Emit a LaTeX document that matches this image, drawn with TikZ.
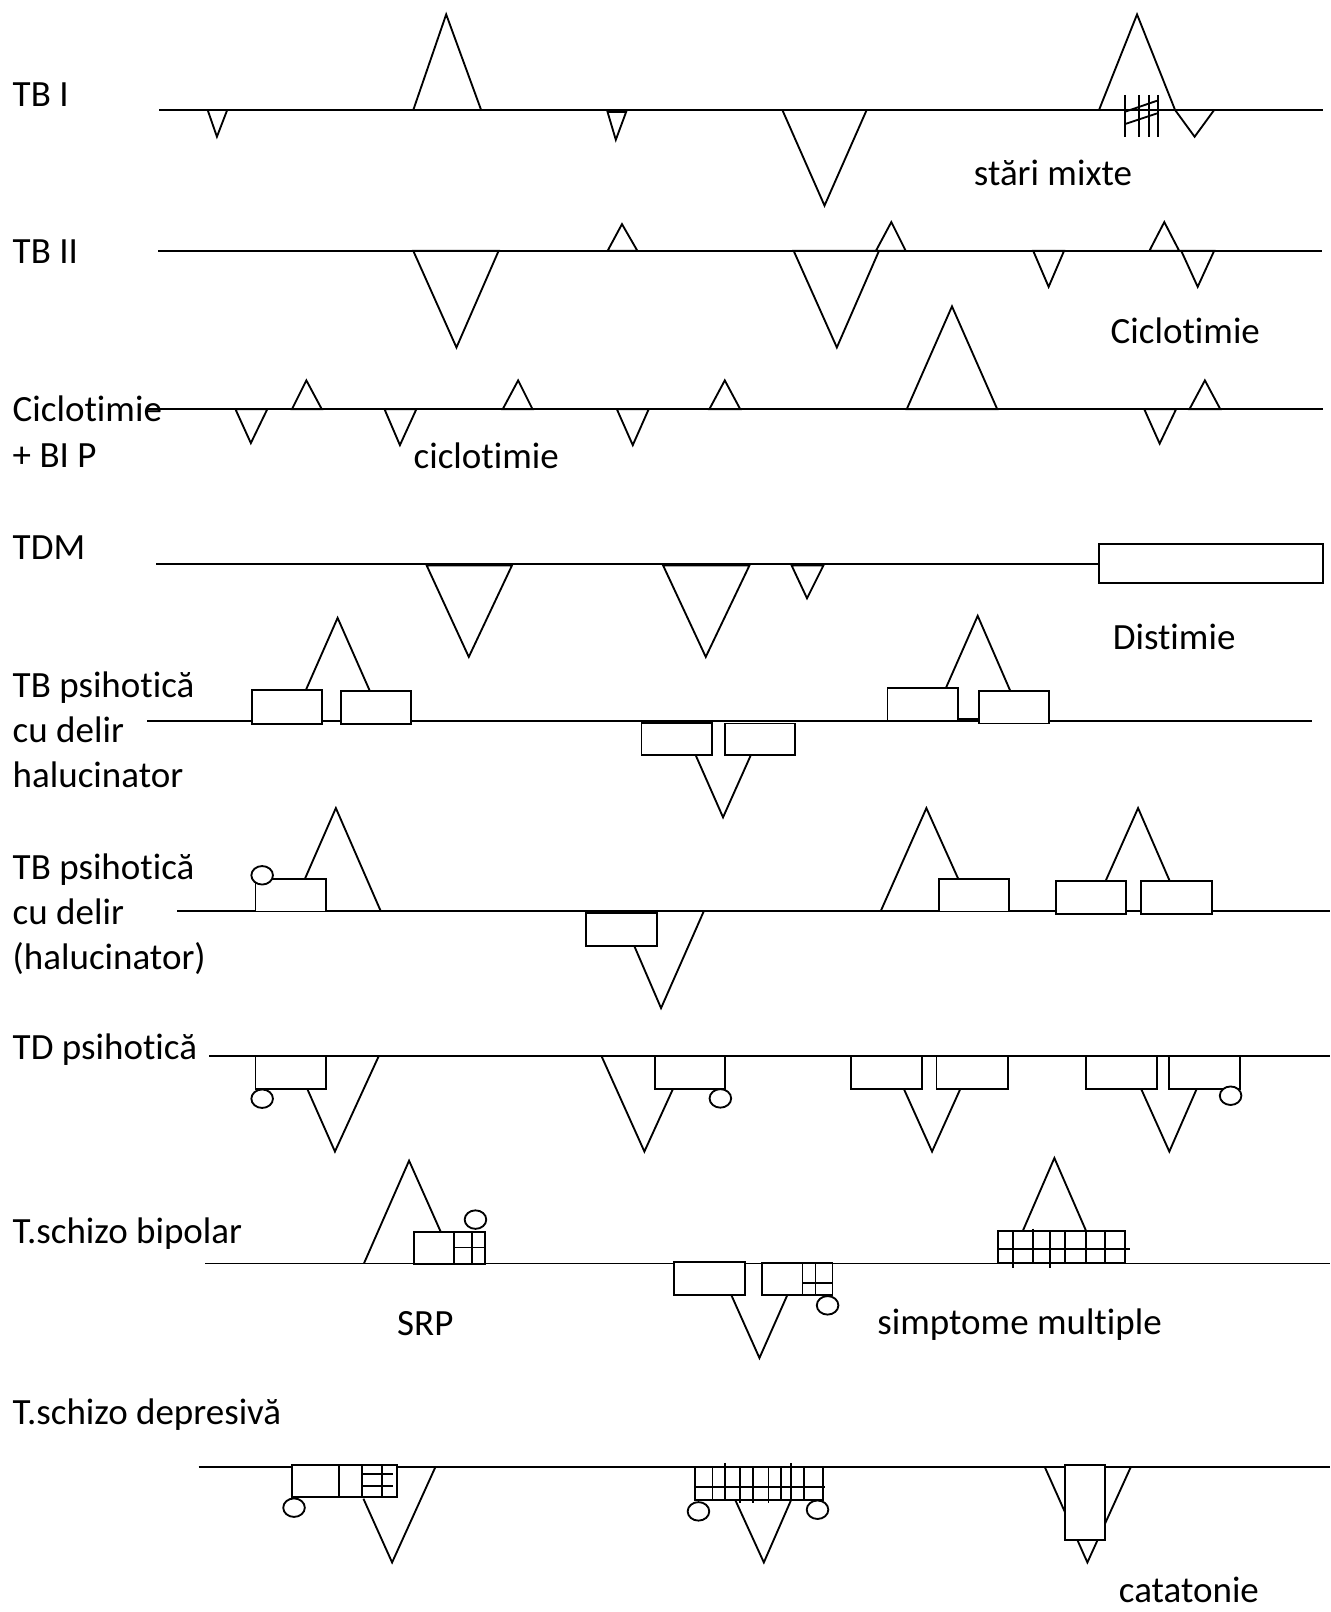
\documentclass[tikz,border=0pt]{standalone}
\usepackage{fontspec}
\setmainfont{Carlito}[Ligatures={NoCommon}]
\begin{document}
\begin{tikzpicture}[x=0.5pt,y=-0.5pt,
  ln/.style={line width=0.9pt},
  shp/.style={draw, fill=white, line width=0.9pt, line join=miter},
  legs/.style={draw, line width=0.9pt, line join=miter},
  dot/.style={draw, fill=white, line width=0.9pt},
  lbl/.style={anchor=base west, inner sep=0pt, font=\fontsize{18}{21}\selectfont}]
\useasboundingbox (0,0) rectangle (1294,1568);
\fill[white] (0,0) rectangle (1294,1568);
\newcommand{\dotat}[1]{\draw[dot] #1 ellipse [x radius=5.25pt, y radius=4.5pt];}

% ---------- TB I ----------
\node[lbl] (tbI) at (12,104) {TB I};
\draw[ln] (155,107) -- (1287,107);
\draw[shp] (202,107) -- (211,133) -- (221,107) -- cycle;
\draw[shp] (402,107) -- (434,14) -- (468,107) -- cycle;
\draw[shp] (591,109) -- (599,136) -- (609,109) -- cycle;
\draw[shp] (761,107) -- (802,200) -- (843,107) -- cycle;
\draw[shp] (1069,107) -- (1106,14) -- (1143,107) -- cycle;
\draw[shp] (1143,107) -- (1162,133) -- (1181,107) -- cycle;
% mixed-state hatching
\foreach \hx in {1094.6,1107.5,1117.3,1126} \draw[ln] (\hx,92.4) -- (\hx,133);
\draw[ln] (1094.6,108.6) -- (1125.4,98);
\draw[ln] (1094.6,120.6) -- (1125.4,110.3);
\node[lbl] (mixte) at (947,180) {stări mixte};

% ---------- TB II ----------
\node[lbl] (tbII) at (12,256) {TB II};
\draw[ln] (154,244) -- (1286,244);
\draw[shp] (402,244) -- (444,338) -- (485,244) -- cycle;
\draw[shp] (591,244) -- (605,218) -- (620,244) -- cycle;
\draw[shp] (772,244) -- (814,338) -- (855,244) -- cycle;
\draw[shp] (852,244) -- (867,216) -- (881,244) -- cycle;
\draw[shp] (1005,244) -- (1020,279) -- (1035,244) -- cycle;
\draw[shp] (1118,244) -- (1132.5,216) -- (1147,244) -- cycle;
\draw[shp] (1149,244) -- (1165,279) -- (1181,244) -- cycle;
\node[lbl] (ciclR) at (1080,334) {Ciclotimie};

% ---------- Ciclotimie + BI P ----------
\draw[ln] (143,398) -- (1287,398);
\node[lbl] (cicl) at (12,410) {Ciclotimie};
\node[lbl] (bip) at (12,455) {+ BI P};
\draw[shp] (229,398) -- (244,431) -- (260,398) -- cycle;
\draw[shp] (284,398) -- (298,370) -- (313,398) -- cycle;
\draw[shp] (374,398) -- (389,433) -- (405,398) -- cycle;
\draw[shp] (489,398) -- (504,370) -- (518,398) -- cycle;
\draw[shp] (600,398) -- (615.5,433) -- (631,398) -- cycle;
\draw[shp] (690,398) -- (705,370) -- (720,398) -- cycle;
\draw[shp] (882,398) -- (926,298) -- (970,398) -- cycle;
\draw[shp] (1113,398) -- (1128,431.5) -- (1144,398) -- cycle;
\draw[shp] (1157,398) -- (1172,370) -- (1187,398) -- cycle;
\node[lbl] (ciclL) at (402,456) {ciclotimie};

% ---------- TDM ----------
\node[lbl] (tdm) at (12,544) {TDM};
\draw[ln] (152,549) -- (1069,549);
\draw[shp] (415,550) -- (456,639) -- (498,550) -- cycle;
\draw[shp] (645,550) -- (686.5,639) -- (729,550) -- cycle;
\draw[shp] (770,550) -- (785,582) -- (801,550) -- cycle;
\draw[shp] (1069,529) rectangle (1287,567);
\node[lbl] (dist) at (1082,632) {Distimie};

% ---------- TB psihotica cu delir halucinator ----------
\node[lbl] (p1a) at (12,678) {TB psihotică};
\node[lbl] (p1b) at (12,722) {cu delir};
\node[lbl] (p1c) at (12,766) {halucinator};
\draw[ln] (143,701) -- (1276,701);
\draw[legs] (297.6,671) -- (328.4,601) -- (359.7,672);
\draw[shp] (245,671) rectangle (313,704);
\draw[shp] (332,672) rectangle (400,704);
\draw[shp] (624,703) rectangle (692.7,734.6);
\draw[shp] (705.4,703.7) rectangle (773.7,734.6);
\draw[legs] (676.7,734.6) -- (703.3,795) -- (730.3,734.6);
\draw[legs] (920,669.4) -- (951,599) -- (982.6,671.8);
\draw[shp] (863.2,669.4) rectangle (932,701);
\draw[ln] (932,699) -- (952,699);
\draw[shp] (952.2,671.8) rectangle (1020.5,703.7);

% ---------- TB psihotica cu delir (halucinator) ----------
\node[lbl] (p2a) at (12,855) {TB psihotică};
\node[lbl] (p2b) at (12,899) {cu delir};
\node[lbl] (p2c) at (12,943) {(halucinator)};
\draw[ln] (172.5,886) -- (1294,886);
\draw[legs] (296.7,854.6) -- (326.7,786) -- (370.5,886.6);
\draw[shp] (248.5,854.6) rectangle (317,886.6);
\dotat{(255,851.4)}
\draw[shp] (570.4,888) rectangle (639,920);
\draw[legs] (616.9,920) -- (643,980.6) -- (684.3,887);
\draw[legs] (856.8,886) -- (901.1,786) -- (932,854.7);
\draw[shp] (913,854.7) rectangle (981.7,886.6);
\draw[legs] (1075.4,857) -- (1107,786) -- (1137.8,857);
\draw[shp] (1026.9,857) rectangle (1095.6,889);
\draw[shp] (1110,857) rectangle (1178.8,889);

% ---------- TD psihotica ----------
\node[lbl] (tdp) at (12,1031) {TD psihotică};
\draw[ln] (203.3,1027) -- (1294,1027);
\draw[legs] (298.9,1059.2) -- (325.8,1120.1) -- (368.4,1027.3);
\draw[shp] (248.5,1027.3) rectangle (317,1059.2);
\dotat{(255,1068.7)}
\draw[legs] (585.1,1027.3) -- (626.8,1120.1) -- (654.6,1059.2);
\draw[shp] (637.3,1027.3) rectangle (705,1059.2);
\dotat{(700.7,1068.4)}
\draw[shp] (827.7,1027.3) rectangle (897,1059.2);
\draw[shp] (910.9,1027.3) rectangle (980.5,1059.2);
\draw[legs] (879.2,1059.2) -- (906.6,1120.1) -- (934.1,1059.2);
\draw[shp] (1056.4,1027.3) rectangle (1125.2,1059.2);
\draw[shp] (1137.4,1027.3) rectangle (1206.2,1059.2);
\draw[legs] (1110,1059.2) -- (1137.4,1120.1) -- (1164,1059.2);
\dotat{(1197,1065.8)}

% ---------- T.schizo bipolar ----------
\node[lbl] (sb) at (12,1210) {T.schizo bipolar};
\draw[ln] (199.8,1229) -- (1294,1229);
\draw[legs] (354,1229) -- (397.9,1129) -- (428.8,1198.4);
\draw[shp] (402.8,1198.4) rectangle (471.9,1229.5);
\draw[ln] (442,1198.4) -- (442,1229.5);
\draw[ln] (459,1198.4) -- (459,1229.5);
\draw[ln] (442,1213.5) -- (471.9,1213.5);
\dotat{(462.5,1186.3)}
\draw[shp] (655.8,1227.3) rectangle (724.4,1259.6);
\draw[shp] (741,1228.5) rectangle (809.8,1259.3);
\draw[ln] (780.6,1228.5) -- (780.6,1259.3);
\draw[ln] (793.3,1228.5) -- (793.3,1259.3);
\draw[ln] (780.6,1248) -- (809.8,1248);
\dotat{(805,1269.7)}
\draw[legs] (711.3,1259.6) -- (738.7,1320.9) -- (766,1259.3);
\draw[legs] (994.7,1197.7) -- (1025.6,1126.4) -- (1056.6,1197.7);
\draw[shp] (970.4,1197.7) rectangle (1094.6,1228.5);
\draw[ln] (970.4,1215.2) -- (1099.4,1215.2);
\draw[ln] (985.3,1197.7) -- (985.3,1233);
\draw[ln] (1004.4,1195) -- (1004.4,1228.5);
\draw[ln] (1021.6,1197.7) -- (1021.6,1233);
\foreach \gx in {1036.3,1056.6,1075.1} \draw[ln] (\gx,1197.7) -- (\gx,1228.5);
\node[lbl] (srp) at (386,1299) {SRP};
\node[lbl] (multi) at (853,1298) {simptome multiple};

% ---------- T.schizo depresiva ----------
\node[lbl] (sd) at (12,1386) {T.schizo depresivă};
\draw[ln] (193.3,1427) -- (1294,1427);
\draw[shp] (283.8,1425.4) rectangle (386,1456.2);
\draw[ln] (329.8,1425.4) -- (329.8,1456.2);
\draw[ln] (352.5,1425.4) -- (352.5,1456.2);
\draw[ln] (352.5,1434.1) -- (382,1434.1);
\draw[ln] (352.5,1445.8) -- (382,1445.8);
\draw[ln] (371.3,1426) -- (371.3,1456.2);
\dotat{(286,1466.5)}
\draw[legs] (353.5,1457.8) -- (381.4,1519.8) -- (423.5,1427);
\draw[shp] (676.2,1427) rectangle (800.4,1458.8);
\draw[ln] (676.2,1446.5) -- (802,1446.5);
\foreach \gx in {693,759.6,782.3} \draw[ln] (\gx,1427) -- (\gx,1458.8);
\foreach \gx in {705.4,769.6} \draw[ln] (\gx,1423) -- (\gx,1458.8);
\foreach \gx in {720,732.3,747.5} \draw[ln] (\gx,1427) -- (\gx,1462);
\dotat{(679.4,1470.1)}
\dotat{(795.2,1468.5)}
\draw[legs] (715.1,1458.8) -- (743,1519.8) -- (769.6,1458.8);
\draw[shp] (1016.3,1427) -- (1057.7,1519.8) -- (1099.9,1427) -- cycle;
\draw[shp] (1036.2,1424.7) rectangle (1074.5,1497.8);
\node[lbl] (cata) at (1088,1559) {catatonie};
\end{tikzpicture}
\end{document}
